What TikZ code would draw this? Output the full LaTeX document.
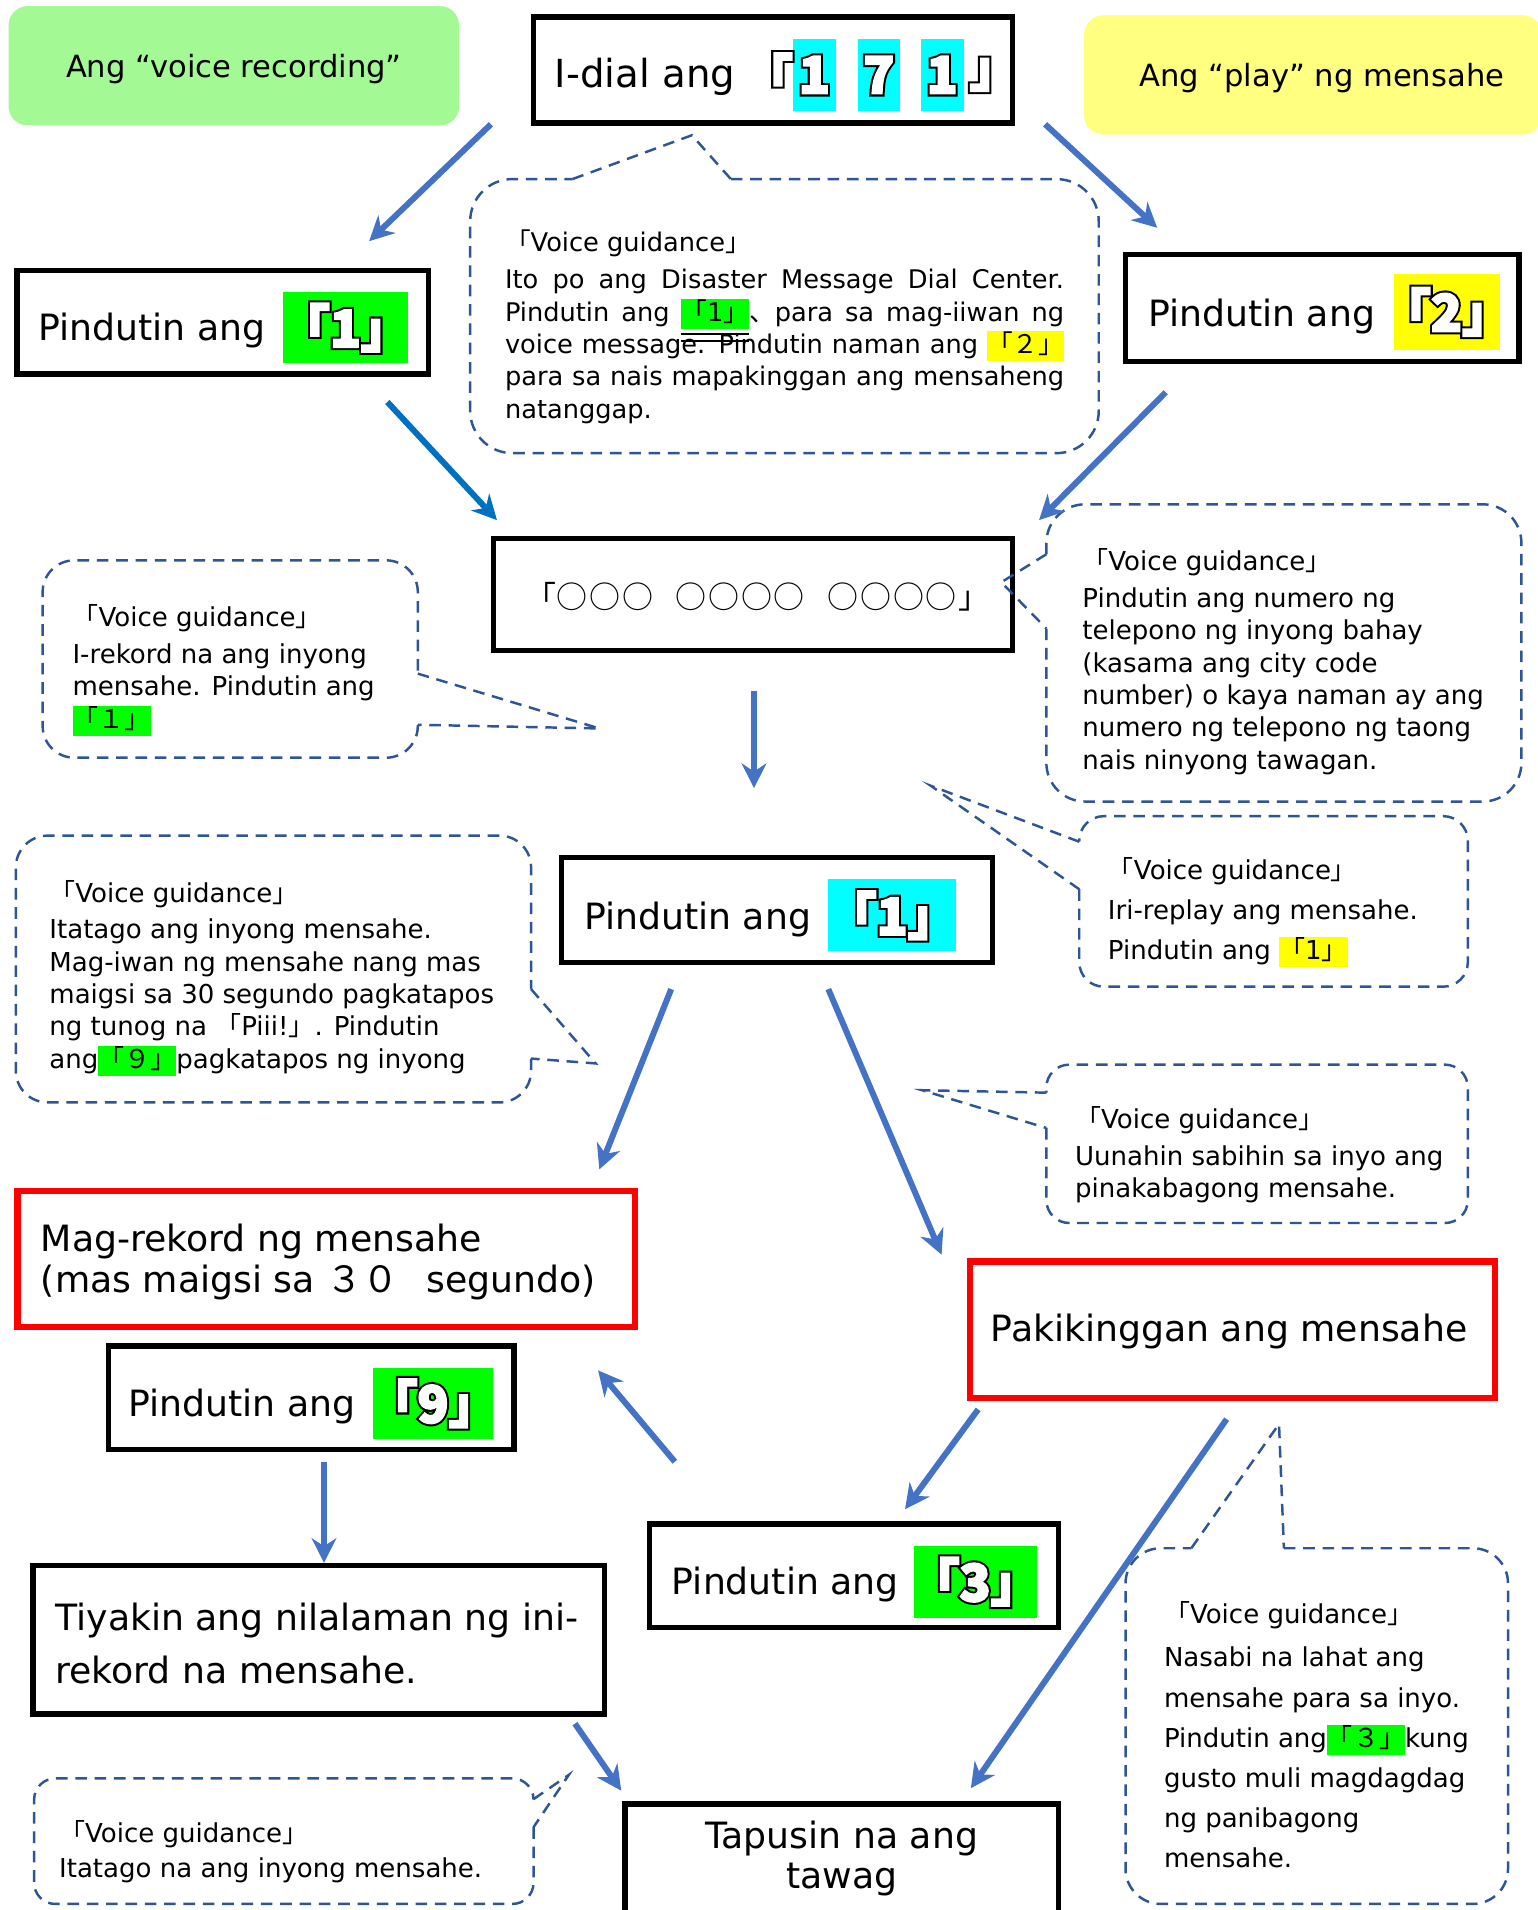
\documentclass[tikz,border=0pt]{standalone}
\usepackage{fontspec}
\setmainfont{DejaVu Sans}
\newfontfamily\cjk{Noto Sans CJK JP}
\newfontfamily\keyout[FakeBold=12]{Noto Sans CJK JP}
\newfontfamily\keyin[FakeBold=4]{Noto Sans CJK JP}
\usetikzlibrary{arrows.meta}
\definecolor{lblgreen}{RGB}{163,249,147}
\definecolor{lblyellow}{RGB}{255,255,128}
\definecolor{arrblue}{RGB}{68,114,196}
\definecolor{arrdark}{RGB}{0,112,192}
\definecolor{dashblue}{RGB}{47,85,151}
\definecolor{keygreen}{RGB}{0,255,0}
\definecolor{keycyan}{RGB}{0,255,255}
\definecolor{keyyellow}{RGB}{255,255,0}
\tikzstyle{arrow} = [line width=1.7pt,-{Stealth[length=7pt,width=7pt]},draw=arrblue]
\tikzstyle{box} = [draw=black,line width=1.5pt,inner sep=0pt]
\tikzstyle{redbox} = [draw=red,line width=1.8pt,inner sep=0pt]
\tikzstyle{tag} = [rounded corners=5.5pt,inner sep=0pt,font=\fontsize{8.7}{10}\selectfont]
\tikzstyle{bubble} = [draw=dashblue,line width=0.7pt,dash pattern=on 3.3pt off 2.2pt]
\tikzstyle{guide} = [anchor=north west,inner sep=0pt,align=left,font=\fontsize{7.4}{9.2}\selectfont]
\tikzstyle{big} = [inner sep=0pt,font=\fontsize{10.3}{11.4}\selectfont]
\tikzstyle{keybg} = [inner sep=0pt]
\newcommand\px{0.01218cm}
\newcommand\lb{{\cjk 「}}
\newcommand\rb{{\cjk 」}}
\newcommand\vg{\lb Voice guidance\rb}
\newcommand\hl[2]{{\setlength\fboxsep{0pt}\colorbox{#1}{\rule[-2.3pt]{0pt}{8.6pt}#2}}}
\newcommand\dul[1]{\raisebox{0pt}[0pt][0pt]{\underline{\underline{#1}}}}
\newcommand\key[1]{\makebox[0pt]{\fontsize{14.5}{15}\keyout\bfseries #1}%
  \makebox[0pt]{\color{white}\fontsize{14.5}{15}\keyin\bfseries #1}}
\newcommand\oo{○\kern0.5pt}

\begin{document}
\begin{tikzpicture}[x=0.01218cm,y=-0.01218cm]
\path[use as bounding box,fill=white] (0,0) rectangle (1262,1568);

\node[tag,fill=lblgreen,minimum width=370*\px,minimum height=98*\px] (rec) at (192,54) {};
\node[tag] (rect) at (192,57) {Ang “voice recording”};
\node[tag,fill=lblyellow,minimum width=376*\px,minimum height=98*\px] (play) at (1078,61.5) {};
\node[tag] (playt) at (1085,64) {Ang “play” ng mensahe};

\node[box,minimum width=393*\px,minimum height=87*\px] (dial) at (634.5,57.5) {};
\node[inner sep=0pt,anchor=west,font=\fontsize{11}{12}\selectfont] (dialt) at (455,63) {I-dial ang};
\node[keybg,fill=keycyan,minimum width=35*\px,minimum height=59*\px] (d1) at (668.5,61.5) {\key{1}};
\node[keybg,fill=keycyan,minimum width=35*\px,minimum height=59*\px] (d7) at (721.5,61.5) {\key{7}};
\node[keybg,fill=keycyan,minimum width=35*\px,minimum height=59*\px] (d2) at (773.5,61.5) {\key{1}};
\node[keybg] (dl) at (630,61.5) {\key{「}};
\node[keybg] (dr) at (817,61.5) {\key{」}};

\node[box,minimum width=338*\px,minimum height=85*\px] (p1) at (183,264.5) {};
\node[big,anchor=west] (p1t) at (31,271) {Pindutin ang};
\node[keybg,fill=keygreen,minimum width=103*\px,minimum height=58*\px] (p1k) at (283.5,269) {\key{「1」}};

\node[box,minimum width=323*\px,minimum height=88*\px] (p2) at (1085.5,253) {};
\node[big,anchor=west] (p2t) at (942,260) {Pindutin ang};
\node[keybg,fill=keyyellow,minimum width=87*\px,minimum height=62*\px] (p2k) at (1187.5,256) {\key{「2」}};

\node[box,minimum width=426*\px,minimum height=92*\px] (ph) at (618,488) {};
\node[inner sep=0pt,font=\fontsize{8.8}{10}\selectfont] (pht) at (622,490) {\cjk 「\oo\oo\oo\hspace{6pt}\oo\oo\oo\oo\hspace{6pt}\oo\oo\oo\oo」};

\node[box,minimum width=354*\px,minimum height=86*\px] (pc) at (638,747) {};
\node[big,anchor=west] (pct) at (479,755) {Pindutin ang};
\node[keybg,fill=keycyan,minimum width=105*\px,minimum height=59*\px] (pck) at (732.5,751.5) {\key{「1」}};

\node[redbox,minimum width=507*\px,minimum height=112*\px] (mag) at (268,1033.5) {};
\node[big,anchor=west,align=left] (magt) at (33,1036) {Mag-rekord ng mensahe\\(mas maigsi sa {\cjk ３０}\hspace{4.5pt} segundo)};

\node[redbox,minimum width=431*\px,minimum height=112*\px] (paki) at (1012,1091.5) {};
\node[big] (pakit) at (1009,1093) {Pakikinggan ang mensahe};

\node[box,minimum width=333*\px,minimum height=85*\px] (p9) at (255.5,1147.5) {};
\node[big,anchor=west] (p9t) at (105,1155) {Pindutin ang};
\node[keybg,fill=keygreen,minimum width=99*\px,minimum height=58*\px] (p9k) at (355.5,1152) {\key{「9」}};

\node[box,minimum width=336*\px,minimum height=85*\px] (p3) at (701,1293.5) {};
\node[big,anchor=west] (p3t) at (551,1301) {Pindutin ang};
\node[keybg,fill=keygreen,minimum width=101*\px,minimum height=59*\px] (p3k) at (800.5,1298.5) {\key{「3」}};

\node[box,minimum width=469*\px,minimum height=122*\px] (tiy) at (261.5,1346) {};
\node[big,anchor=west,align=left,font=\fontsize{10.3}{15.2}\selectfont] (tiyt) at (45,1349) {Tiyakin ang nilalaman ng ini-\\rekord na mensahe.};

\node[box,minimum width=356*\px,minimum height=94*\px] (tap) at (691,1528) {};
\node[big,align=center] (tapt) at (691,1526) {Tapusin na ang\\tawag};

\draw[bubble,rounded corners=12pt] (600,147) -- (902,147) -- (902,372) -- (386,372) -- (386,147) -- (470,147);
\draw[bubble] (470,147) -- (568,111) -- (600,147);
\node[guide,font=\fontsize{7.3}{9.2}\selectfont] (g0) at (414,188) {\vg\\[1.4pt]
\makebox[159pt][s]{Ito po ang Disaster Message Dial Center.}\\
\makebox[159pt][s]{Pindutin ang \dul{\hl{keygreen}{\lb 1\rb}}{\cjk 、}para sa mag-iiwan ng}\\
\makebox[159pt][s]{voice message. Pindutin naman ang \hl{keyyellow}{\lb{\cjk ２}\rb}}\\
\makebox[159pt][s]{para sa nais mapakinggan ang mensaheng}\\
natanggap.};

\draw[bubble,rounded corners=9pt] (343,595) -- (343,622) -- (35,622) -- (35,460) -- (343,460) -- (343,553);
\draw[bubble] (343,553) -- (492,598) -- (343,595);
\node[guide] (g1) at (59,496) {\vg\\[1.2pt]
I-rekord na ang inyong\\
mensahe. Pindutin ang\\
\hl{keygreen}{\lb{\cjk １}\rb}};

\draw[bubble,rounded corners=11pt] (859,516) -- (859,658) -- (1249,658) -- (1249,414) -- (859,414) -- (859,455);
\draw[bubble] (859,455) -- (822,478) -- (859,516);
\node[guide] (g2) at (888,450) {\vg\\[1.2pt]
Pindutin ang numero ng\\
telepono ng inyong bahay\\
(kasama ang city code\\
number) o kaya naman ay ang\\
numero ng telepono ng taong\\
nais ninyong tawagan.};

\draw[bubble,rounded corners=7pt] (886,730) -- (886,810) -- (1205,810) -- (1205,670) -- (886,670) -- (886,691);
\draw[bubble] (886,691) -- (764,645) -- (886,730);
\node[guide,font=\fontsize{7.4}{11.4}\selectfont] (g3) at (909,703) {\vg\\
Iri-replay ang mensahe.\\
Pindutin ang \hl{keyyellow}{\lb 1\rb}};

\draw[bubble,rounded corners=9pt] (436,869) -- (436,905) -- (13,905) -- (13,686) -- (436,686) -- (436,812);
\draw[bubble] (436,812) -- (489,873) -- (436,869);
\node[guide] (g4) at (40,722) {\vg\\[1.2pt]
Itatago ang inyong mensahe.\\
Mag-iwan ng mensahe nang mas\\
maigsi sa 30 segundo pagkatapos\\
ng tunog na \lb Piii!\rb. Pindutin\\
ang\hl{keygreen}{\lb{\cjk ９}\rb}pagkatapos ng inyong};

\draw[bubble,rounded corners=6.5pt] (859,926) -- (859,1004) -- (1205,1004) -- (1205,874) -- (859,874) -- (859,897);
\draw[bubble] (859,897) -- (757,895) -- (859,926);
\node[guide] (g5) at (882,908) {\vg\\[1.2pt]
Uunahin sabihin sa inyo ang\\
pinakabagong mensahe.};

\draw[bubble,rounded corners=10pt] (1054,1271) -- (1238,1271) -- (1238,1563) -- (924,1563) -- (924,1271) -- (978,1271);
\draw[bubble] (978,1271) -- (1050,1169) -- (1054,1271);
\node[guide,font=\fontsize{7.4}{11.4}\selectfont] (g6) at (955,1314) {\vg\\[1pt]
Nasabi na lahat ang\\
mensahe para sa inyo.\\
Pindutin ang\hl{keygreen}{\lb{\cjk ３}\rb}kung\\
gusto muli magdagdag\\
ng panibagong\\
mensahe.};

\draw[bubble,rounded corners=6pt] (438,1500) -- (438,1563) -- (28,1563) -- (28,1460) -- (438,1460) -- (438,1477);
\draw[bubble] (438,1477) -- (467,1457) -- (438,1500);
\node[guide] (g7) at (48,1494) {\vg\\[0.8pt]
Itatago na ang inyong mensahe.};

\coordinate (a1s) at (403,102); \coordinate (a1e) at (303,198);
\coordinate (a2s) at (858,102); \coordinate (a2e) at (950,187);
\coordinate (a3s) at (318,330); \coordinate (a3e) at (408,427);
\coordinate (a4s) at (957,322); \coordinate (a4e) at (853,427);
\coordinate (a5s) at (619,567); \coordinate (a5e) at (619,647);
\coordinate (a6s) at (551,812); \coordinate (a6e) at (492,960);
\coordinate (a7s) at (680,812); \coordinate (a7e) at (773,1030);
\coordinate (a8s) at (554,1200); \coordinate (a8e) at (491,1125);
\coordinate (a9s) at (803,1157); \coordinate (a9e) at (743,1239);
\coordinate (a10s) at (266,1200); \coordinate (a10e) at (266,1283);
\coordinate (a11s) at (472,1415); \coordinate (a11e) at (510,1470);
\coordinate (a12s) at (1007,1165); \coordinate (a12e) at (797,1468);
\draw[arrow] (a1s) -- (a1e);
\draw[arrow] (a2s) -- (a2e);
\draw[arrow,draw=arrdark] (a3s) -- (a3e);
\draw[arrow] (a4s) -- (a4e);
\draw[arrow] (a5s) -- (a5e);
\draw[arrow] (a6s) -- (a6e);
\draw[arrow] (a7s) -- (a7e);
\draw[arrow] (a8s) -- (a8e);
\draw[arrow] (a9s) -- (a9e);
\draw[arrow] (a10s) -- (a10e);
\draw[arrow] (a11s) -- (a11e);
\draw[arrow] (a12s) -- (a12e);
\end{tikzpicture}
\end{document}
